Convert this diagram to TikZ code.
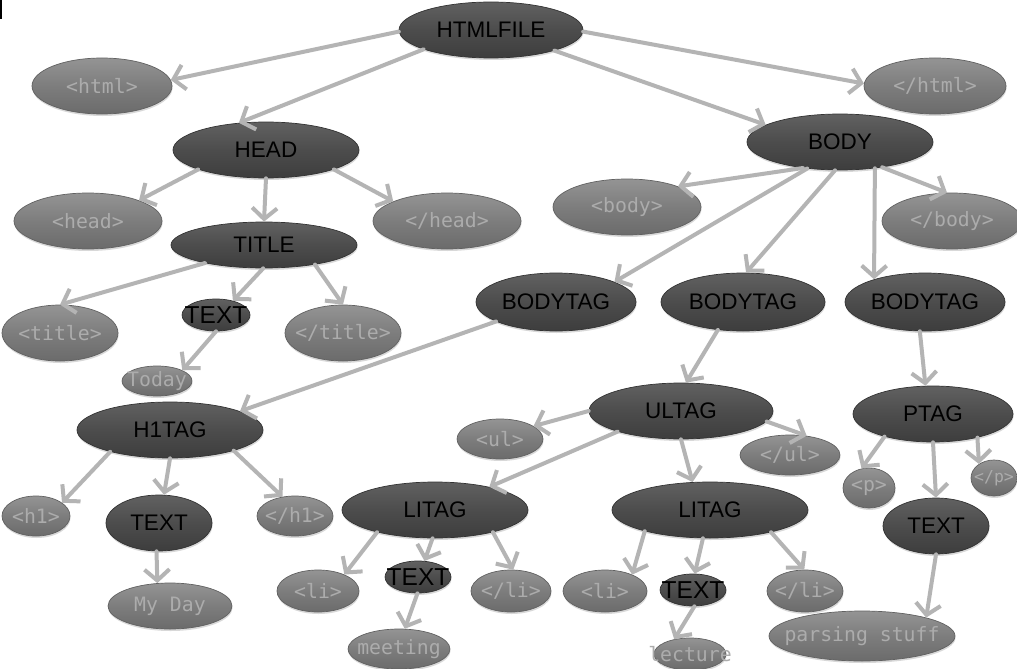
\documentclass[tikz,border=0pt]{standalone}
\usepackage{fontspec}
\newfontfamily\labfont{Liberation Sans}
\newfontfamily\tagfont{DejaVu Sans Mono}
\usetikzlibrary{arrows.meta,shadows,shapes.geometric}
\definecolor{edgegray}{HTML}{B4B4B4}
\definecolor{tagtext}{HTML}{ACACAC}
\tikzset{
  x=1pt, y=-1pt,
  dtxt/.style={font=\labfont\fontsize{22.5}{22.5}\selectfont, text=black, inner sep=0pt},
  dtxtbig/.style={font=\labfont\fontsize{24.5}{24.5}\selectfont, text=black, inner sep=0pt},
  ltxt/.style={font=\tagfont\fontsize{19.8}{19.8}\selectfont, text=tagtext, inner sep=0pt},
  ltxtsmall/.style={font=\tagfont\fontsize{16.5}{16.5}\selectfont, text=tagtext, inner sep=0pt},
  darkbase/.style={ellipse, inner sep=0pt, draw=black!80, line width=0.7pt,
    top color=black!62, bottom color=black!76, middle color=black!70,
    drop shadow={opacity=0.3, shadow xshift=0.5pt, shadow yshift=-2pt}},
  lightbase/.style={ellipse, inner sep=0pt, draw=black!62, line width=0.7pt,
    top color=black!42, bottom color=black!58, middle color=black!51,
    drop shadow={opacity=0.3, shadow xshift=0.5pt, shadow yshift=-2pt}},
  dark/.style={darkbase, label={[dtxt]center:#1}},
  darksmall/.style={darkbase, label={[dtxtbig]center:#1}},
  light/.style={lightbase, label={[ltxt]center:#1}},
  lightsmall/.style={lightbase, label={[ltxtsmall]center:#1}},
  sz/.style 2 args={minimum width=#1pt, minimum height=#2pt},
  edge/.style={draw=edgegray, line width=4pt, line cap=round,
    -{Straight Barb[length=11pt,width=25pt]}},
}
\begin{document}
\begin{tikzpicture}
\useasboundingbox (0,0) rectangle (1017,669);
\clip (0,0) rectangle (1017,669);
\fill[white] (0,0) rectangle (1017,669);
\fill[black] (0,0) rectangle (2,19);

% dark nodes
\node[dark=HTMLFILE, sz={184}{56}] (H0) at (491,30) {};
\node[dark=HEAD, sz={186}{56}] (HEAD) at (266,150) {};
\node[dark=BODY, sz={186}{56}] (BODY) at (840,142) {};
\node[dark=TITLE, sz={186}{46}] (TITLE) at (264,245) {};
\node[darksmall=TEXT, sz={68}{32}] (T1) at (216,315) {};
\node[dark=BODYTAG, sz={160}{58}] (BT1) at (556,302) {};
\node[dark=BODYTAG, sz={164}{58}] (BT2) at (743,302) {};
\node[dark=BODYTAG, sz={160}{58}] (BT3) at (925,302) {};
\node[dark=ULTAG, sz={184}{56}] (UL) at (681,411) {};
\node[dark=PTAG, sz={160}{56}] (PT) at (933,414) {};
\node[dark=H1TAG, sz={186}{56}] (H1) at (170,430) {};
\node[dark=TEXT, sz={106}{56}] (T2) at (159,523) {};
\node[dark=LITAG, sz={186}{56}] (LI1) at (435,510) {};
\node[dark=LITAG, sz={196}{56}] (LI2) at (710,510) {};
\node[dark=TEXT, sz={106}{56}] (T5) at (936,526) {};
\node[darksmall=TEXT, sz={66}{32}] (T3) at (418,577) {};
\node[darksmall=TEXT, sz={66}{32}] (T4) at (693,590) {};

% light nodes
\node[light={<html>}, sz={140}{56}] (htmlo) at (102,86) {};
\node[light={</html>}, sz={142}{56}] (htmlc) at (935,86) {};
\node[light={<head>}, sz={148}{56}] (heado) at (88,221) {};
\node[light={</head>}, sz={148}{56}] (headc) at (447,221) {};
\node[light={<body>}, sz={148}{56}] (bodyo) at (627,207) {};
\node[light={</body>}, sz={140}{56}] (bodyc) at (952,221) {};
\node[light={<title>}, sz={116}{56}] (titleo) at (60,333) {};
\node[light={</title>}, sz={116}{56}] (titlec) at (343,333) {};
\node[light={Today}, sz={70}{30}] (today) at (157,381) {};
\node[light={<h1>}, sz={68}{40}] (h1o) at (36,516) {};
\node[light={</h1>}, sz={76}{40}] (h1c) at (295,516) {};
\node[light={<ul>}, sz={86}{40}] (ulo) at (500,439) {};
\node[light={</ul>}, sz={100}{40}] (ulc) at (790,455) {};
\node[light={<p>}, sz={52}{40}] (po) at (869,488) {};
\node[lightsmall={</p>}, sz={46}{36}] (pc) at (994,478) {};
\node[light={<li>}, sz={82}{42}] (li1o) at (318,591) {};
\node[light={</li>}, sz={80}{42}] (li1c) at (511,591) {};
\node[light={<li>}, sz={84}{42}] (li2o) at (605,591) {};
\node[light={</li>}, sz={76}{42}] (li2c) at (805,591) {};
\node[light={My Day}, sz={124}{46}] (myday) at (170,606) {};
\node[light={meeting}, sz={102}{40}] (meeting) at (399,649) {};
\node[light={lecture}, sz={72}{32}] (lecture) at (690,654) {};
\node[light={parsing stuff}, sz={186}{50}] (parsing) at (862,636) {};

% edges
\draw[edge] (H0.181) -- (htmlo.5);
\draw[edge] (H0.196) -- (HEAD.135);
\draw[edge] (H0.-1) -- (htmlc.178);
\draw[edge] (H0.-18) -- (BODY.167);
\draw[edge] (HEAD.196) -- (heado.22);
\draw[edge] (HEAD.270) -- (TITLE.90);
\draw[edge] (HEAD.-16) -- (headc.160);
\draw[edge] (BODY.215) -- (bodyo.22);
\draw[edge] (BODY.219) -- (BT1.19);
\draw[edge] (BODY.260) -- (BT2.84);
\draw[edge] (BODY.-37) -- (BT3.156);
\draw[edge] (BODY.-31) -- (bodyc.100);
\draw[edge] (TITLE.197) -- (titleo.90);
\draw[edge] (TITLE.268) -- (T1.40);
\draw[edge] (TITLE.-21) -- (titlec.90);
\draw[edge] (T1.270) -- (today.23);
\draw[edge] (BT1.198) -- (H1.15);
\draw[edge] (BT2.228) -- (UL.80);
\draw[edge] (BT3.260) -- (PT.105);
\draw[edge] (H1.200) -- (h1o.27);
\draw[edge] (H1.270) -- (T2.80);
\draw[edge] (H1.-18) -- (h1c.123);
\draw[edge] (T2.265) -- (myday.119);
\draw[edge] (UL.180) -- (ulo.21);
\draw[edge] (UL.198) -- (LI1.23);
\draw[edge] (UL.270) -- (LI2.122);
\draw[edge] (UL.-7) -- (ulc.49);
\draw[edge] (PT.205) -- (po.111);
\draw[edge] (PT.270) -- (T5.90);
\draw[edge] (PT.-28) -- (pc.137);
\draw[edge] (T5.270) -- (parsing.16);
\draw[edge] (LI1.201) -- (li1o.32);
\draw[edge] (LI1.265) -- (T3.68);
\draw[edge] (LI1.-21) -- (li1c.84);
\draw[edge] (LI2.198) -- (li2o.31);
\draw[edge] (LI2.256) -- (T4.84);
\draw[edge] (LI2.-20) -- (li2c.92);
\draw[edge] (T3.268) -- (meeting.74);
\draw[edge] (T4.275) -- (lecture.137);
\end{tikzpicture}
\end{document}
